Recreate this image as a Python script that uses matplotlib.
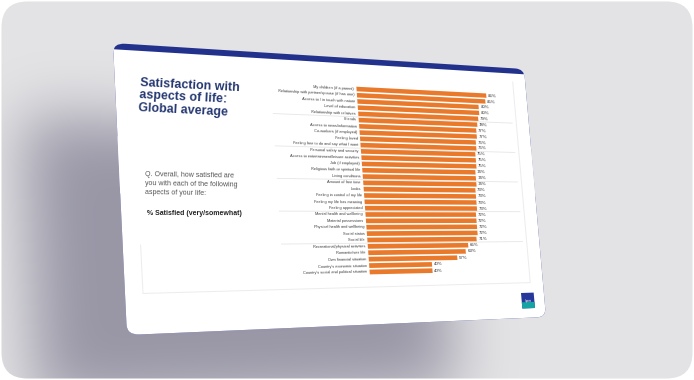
import numpy as np
import matplotlib.pyplot as plt
import matplotlib.transforms as mtransforms
from matplotlib.patches import FancyBboxPatch, Rectangle
from matplotlib.path import Path

plt.rcParams['font.family'] = ['Liberation Sans', 'DejaVu Sans']

# DATA
labels = ["My children (if a parent)",
          "Relationship with partner/spouse (if has one)",
          "Access to / in touch with nature",
          "Level of education",
          "Relationship with relatives",
          "Friends",
          "Access to news/information",
          "Co-workers (if employed)",
          "Feeling loved",
          "Feeling free to do and say what I want",
          "Personal safety and security",
          "Access to entertainment/leisure activities",
          "Job (if employed)",
          "Religious faith or spiritual life",
          "Living conditions",
          "Amount of free time",
          "Looks",
          "Feeling in control of my life",
          "Feeling my life has meaning",
          "Feeling appreciated",
          "Mental health and wellbeing",
          "Material possessions",
          "Physical health and wellbeing",
          "Social status",
          "Social life",
          "Recreational/physical activities",
          "Romantic/sex life",
          "Own financial situation",
          "Country's economic situation",
          "Country's social and political situation"]
values = [86, 85, 80, 80, 79, 78, 77, 77, 76, 76,
          75, 75, 75, 74, 74, 74, 73, 73, 73, 73,
          72, 72, 72, 72, 71, 65, 63, 57, 40, 40]
group_lines = [4.5, 9.5, 14.5, 19.5, 24.5]

title = "Satisfaction with\naspects of life:\nGlobal average"
question = "Q. Overall, how satisfied are\nyou with each of the following\naspects of your life:"
base_note = "% Satisfied (very/somewhat)"

# LAYOUT (pixels of the 694x380 picture)
W, H = 694, 380
SLIDE = [(113, 43), (524, 69), (546, 317), (127, 335)]   # TL, TR, BR, BL
ZERO_TOP = (356.5, 89.0)     # 0% on first row
FULL_TOP = (506.0, 95.0)     # 100% on first row
ZERO_BOTTOM = (370.0, 272.0)  # 0% on last row

ORANGE = '#e97a2b'
NAVY = '#22318c'
TITLE_C = '#263972'


def homography(src, dst):
    A, b = [], []
    for (u, v), (x, y) in zip(src, dst):
        A.append([u, v, 1, 0, 0, 0, -u * x, -v * x]); b.append(x)
        A.append([0, 0, 0, u, v, 1, -u * y, -v * y]); b.append(y)
    h = np.linalg.solve(np.array(A, float), np.array(b, float))
    return np.append(h, 1).reshape(3, 3)


class Warp(mtransforms.Transform):
    """perspective map from slide coords (u, v in 0..1) to picture pixels"""
    input_dims = output_dims = 2
    is_separable = False
    has_inverse = False

    def __init__(self, M):
        super().__init__()
        self.M = M

    def transform_non_affine(self, values):
        xy = np.asarray(values, float)
        flat = xy.ndim == 1
        xy = xy.reshape(-1, 2)
        p = np.column_stack([xy, np.ones(len(xy))]) @ self.M.T
        out = p[:, :2] / p[:, 2:]
        return out[0] if flat else out


M = homography([(0, 0), (1, 0), (1, 1), (0, 1)], SLIDE)
Minv = np.linalg.inv(M)


def to_uv(x, y):
    p = Minv @ np.array([x, y, 1.0])
    return p[0] / p[2], p[1] / p[2]


fig = plt.figure(figsize=(W / 100, H / 100), dpi=100)
ax = fig.add_axes([0, 0, 1, 1])
ax.set_xlim(0, W)
ax.set_ylim(H, 0)
ax.set_autoscale_on(False)
ax.axis('off')

# BACKGROUND WITH SOFT SHADOW
pad = 120
yy, xx = np.mgrid[-pad:H + pad, -pad:W + pad] + 0.5
shadow_poly = np.array(SLIDE, float) + [-90, 72]
mask = Path(shadow_poly).contains_points(np.column_stack([xx.ravel(), yy.ravel()]))
mask = mask.reshape(xx.shape).astype(float)
t = np.arange(-90, 91)
k = np.exp(-0.5 * (t / 30.0) ** 2)
k /= k.sum()
mask = np.array([np.convolve(r, k, 'same') for r in mask])
mask = np.array([np.convolve(c, k, 'same') for c in mask.T]).T
mask = mask[pad:pad + H, pad:pad + W, None]
base = np.array([0.893, 0.893, 0.901])
dark = np.array([0.600, 0.592, 0.652])
bg = base * (1 - mask) + dark * mask

frame = FancyBboxPatch((1.5, 1.5), W - 3, H - 3, boxstyle="round,pad=0,rounding_size=26",
                       facecolor='none', edgecolor='none')
ax.add_patch(frame)
im = ax.imshow(bg, extent=(0, W, H, 0), interpolation='bilinear', aspect='auto', zorder=0)
im.set_clip_path(frame)

# SLIDE
warp = Warp(M)
tr_uv = warp + ax.transData
ax.add_patch(FancyBboxPatch((0, 0), 1, 1, boxstyle="round,pad=0,rounding_size=0.025",
                            mutation_aspect=1.4, transform=tr_uv, fc=NAVY, ec='none', zorder=2))
ax.add_patch(Rectangle((0, 0.022), 1, 0.5, transform=tr_uv, fc='white', ec='none', zorder=2.1))
ax.add_patch(FancyBboxPatch((0, 0.3), 1, 0.7, boxstyle="round,pad=0,rounding_size=0.025",
                            mutation_aspect=1.4, transform=tr_uv, fc='white', ec='none', zorder=2.1))

# faint content frame
ul, vb1 = to_uv(143, 293)
ur1, vb2 = to_uv(531, 283)
ur2, vt = to_uv(512, 82)
_, vl = to_uv(143, 245)
ur = (ur1 + ur2) / 2
vb = (vb1 + vb2) / 2
ax.plot([ul, ul, ur, ur], [vl, vb, vb, vt], color='#ececec', lw=0.7, transform=tr_uv, zorder=2.2)


def put(tr, x, y, s, **kw):
    a = tr.transform([(x, y), (x + 0.01, y)])
    ang = np.degrees(np.arctan2(a[1, 1] - a[0, 1], a[1, 0] - a[0, 0]))
    return ax.text(x, y, s, transform=tr, rotation=ang, rotation_mode='anchor', zorder=5, **kw)


# LEFT TEXT
put(tr_uv, *to_uv(140, 77), title, ha='left', va='top', fontsize=9, weight='bold',
    color=TITLE_C, linespacing=1.05)
put(tr_uv, *to_uv(145, 171), question, ha='left', va='top', fontsize=5, color='#555555',
    linespacing=1.45)
put(tr_uv, *to_uv(147, 214), base_note, ha='left', va='center', fontsize=5, weight='bold',
    color='#222222')

# CHART
u0, v0 = to_uv(*ZERO_TOP)
u100, _ = to_uv(*FULL_TOP)
_, v1 = to_uv(*ZERO_BOTTOM)
n = len(labels)
aff = mtransforms.Affine2D().scale((u100 - u0) / 100, (v1 - v0) / (n - 1)).translate(u0, v0)
tr_chart = aff + warp + ax.transData
rows = np.arange(n)

ax.hlines(group_lines, -52, 103, colors='#e6e6e6', lw=0.6, transform=tr_chart, zorder=2.5)
ax.barh(rows, values, height=0.74, color=ORANGE, transform=tr_chart, zorder=3)
for i, (lab, val) in enumerate(zip(labels, values)):
    put(tr_chart, -1.5, i, lab, ha='right', va='center', fontsize=2.8, color='#3a3a3a')
    put(tr_chart, val + 1.2, i, f"{val}%", ha='left', va='center', fontsize=3.2, color='#2e2e2e')

# logo
la, lb = to_uv(521, 293)
lc, ld = to_uv(535, 308)
ax.add_patch(Rectangle((la, lb), lc - la, ld - lb, transform=tr_uv, fc='#26399a', ec='none', zorder=3))
ax.add_patch(Rectangle((la, lb + 0.6 * (ld - lb)), lc - la, 0.4 * (ld - lb), transform=tr_uv,
                       fc='#17a2a4', ec='none', zorder=3.1))
put(tr_uv, (la + lc) / 2, lb + 0.55 * (ld - lb), "Ipsos", ha='center', va='center',
    fontsize=2.2, color='white')

fig.savefig("out.png", dpi=100, facecolor='white')
